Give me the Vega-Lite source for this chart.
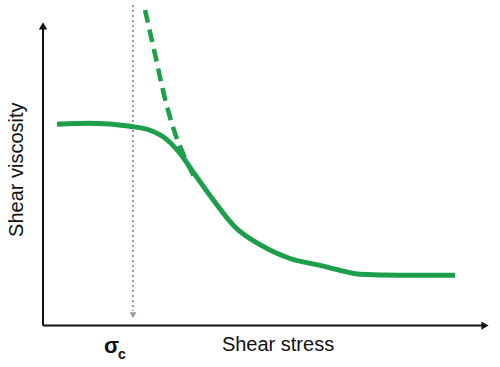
{
  "$schema": "https://vega.github.io/schema/vega-lite/v6.json",
  "width": 500,
  "height": 367,
  "autosize": {"type": "fit", "contains": "padding"},
  "padding": 0,
  "background": "white",
  "config": {"view": {"stroke": null}},
  "datasets": {
    "solid": [
      {"x": 11.4, "y": 67.03}, {"x": 18, "y": 67.3}, {"x": 26, "y": 66.49}, {"x": 30, "y": 65.4},
      {"x": 33, "y": 63.22}, {"x": 35.6, "y": 59.67}, {"x": 39, "y": 53.13}, {"x": 43, "y": 45.5},
      {"x": 47, "y": 38.69}, {"x": 52, "y": 33.79}, {"x": 58, "y": 29.97}, {"x": 64, "y": 28.07},
      {"x": 68, "y": 26.7}, {"x": 72, "y": 25.61}, {"x": 80, "y": 25.34}, {"x": 91, "y": 25.34}
    ],
    "dashed": [
      {"x": 29, "y": 98.64}, {"x": 31, "y": 86.38}, {"x": 33, "y": 74.11},
      {"x": 35, "y": 64.58}, {"x": 37, "y": 57.77}, {"x": 38.8, "y": 52.6}
    ],
    "axes": [
      {"x": 8.6, "y": 11.44, "x2": 8.6, "y2": 94.5},
      {"x": 8.6, "y": 11.44, "x2": 96.8, "y2": 11.44}
    ],
    "arrows": [
      {"x": 8.6, "y": 94.2, "shape": "triangle-up"},
      {"x": 97.0, "y": 11.44, "shape": "triangle-right"}
    ],
    "dotted": [{"x": 26.6, "y": 100, "x2": 26.6, "y2": 15.5}],
    "dotarrow": [{"x": 26.6, "y": 14.3}],
    "labels": [
      {"x": 3.4, "y": 54.5, "label": "Shear viscosity", "angle": 270},
      {"x": 55.6, "y": 6.0, "label": "Shear stress", "angle": 0}
    ],
    "sigma": [{"x": 22.3, "y": 5.9, "label": "σ"}],
    "sub": [{"x": 24.4, "y": 3.3, "label": "c"}]
  },
  "layer": [
    {
      "data": {"name": "dotted"},
      "mark": {"type": "rule", "color": "#9a9a9a", "strokeWidth": 2, "strokeDash": [2, 3]},
      "encoding": {
        "x": {"field": "x", "type": "quantitative", "scale": {"domain": [0, 100]}, "axis": null},
        "y": {"field": "y", "type": "quantitative", "scale": {"domain": [0, 100]}, "axis": null},
        "x2": {"field": "x2"},
        "y2": {"field": "y2"}
      }
    },
    {
      "data": {"name": "dotarrow"},
      "mark": {"type": "point", "shape": "triangle-down", "filled": true, "color": "#9a9a9a", "size": 45, "opacity": 1},
      "encoding": {
        "x": {"field": "x", "type": "quantitative", "scale": {"domain": [0, 100]}, "axis": null},
        "y": {"field": "y", "type": "quantitative", "scale": {"domain": [0, 100]}, "axis": null}
      }
    },
    {
      "data": {"name": "axes"},
      "mark": {"type": "rule", "color": "#111111", "strokeWidth": 2},
      "encoding": {
        "x": {"field": "x", "type": "quantitative", "scale": {"domain": [0, 100]}, "axis": null},
        "y": {"field": "y", "type": "quantitative", "scale": {"domain": [0, 100]}, "axis": null},
        "x2": {"field": "x2"},
        "y2": {"field": "y2"}
      }
    },
    {
      "data": {"name": "arrows"},
      "mark": {"type": "point", "filled": true, "color": "#111111", "size": 70, "opacity": 1},
      "encoding": {
        "x": {"field": "x", "type": "quantitative", "scale": {"domain": [0, 100]}, "axis": null},
        "y": {"field": "y", "type": "quantitative", "scale": {"domain": [0, 100]}, "axis": null},
        "shape": {"field": "shape", "type": "nominal", "scale": null, "legend": null}
      }
    },
    {
      "data": {"name": "dashed"},
      "mark": {"type": "line", "color": "#1c9e4b", "strokeWidth": 4.5, "strokeDash": [13, 7], "interpolate": "monotone"},
      "encoding": {
        "x": {"field": "x", "type": "quantitative", "scale": {"domain": [0, 100]}, "axis": null},
        "y": {"field": "y", "type": "quantitative", "scale": {"domain": [0, 100]}, "axis": null},
        "order": {"field": "x", "type": "quantitative"}
      }
    },
    {
      "data": {"name": "solid"},
      "mark": {"type": "line", "color": "#1c9e4b", "strokeWidth": 5, "interpolate": "monotone"},
      "encoding": {
        "x": {"field": "x", "type": "quantitative", "scale": {"domain": [0, 100]}, "axis": null},
        "y": {"field": "y", "type": "quantitative", "scale": {"domain": [0, 100]}, "axis": null}
      }
    },
    {
      "data": {"name": "labels"},
      "mark": {"type": "text", "font": "Liberation Sans", "fontSize": 20, "color": "#111111", "align": "center", "baseline": "middle"},
      "encoding": {
        "x": {"field": "x", "type": "quantitative", "scale": {"domain": [0, 100]}, "axis": null},
        "y": {"field": "y", "type": "quantitative", "scale": {"domain": [0, 100]}, "axis": null},
        "text": {"field": "label"},
        "angle": {"field": "angle", "type": "quantitative", "scale": null}
      }
    },
    {
      "data": {"name": "sigma"},
      "mark": {"type": "text", "font": "Liberation Sans", "fontSize": 22, "fontWeight": "bold", "color": "#111111", "align": "center", "baseline": "middle"},
      "encoding": {
        "x": {"field": "x", "type": "quantitative", "scale": {"domain": [0, 100]}, "axis": null},
        "y": {"field": "y", "type": "quantitative", "scale": {"domain": [0, 100]}, "axis": null},
        "text": {"field": "label"}
      }
    },
    {
      "data": {"name": "sub"},
      "mark": {"type": "text", "font": "Liberation Sans", "fontSize": 14, "fontWeight": "bold", "color": "#111111", "align": "center", "baseline": "middle"},
      "encoding": {
        "x": {"field": "x", "type": "quantitative", "scale": {"domain": [0, 100]}, "axis": null},
        "y": {"field": "y", "type": "quantitative", "scale": {"domain": [0, 100]}, "axis": null},
        "text": {"field": "label"}
      }
    }
  ]
}
